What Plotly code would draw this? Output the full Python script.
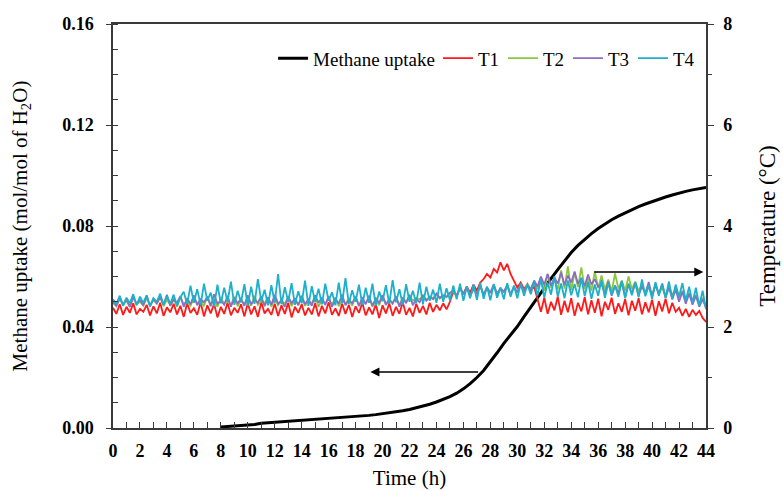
import plotly.graph_objects as go

# ---------------- data ----------------
# Methane uptake (mol/mol of H2O), sampled every 0.5 h from 8 h to 44 h
methane_time = [8.0 + 0.5 * i for i in range(73)]
methane_uptake = [
    0.0004, 0.0006, 0.0008, 0.0010, 0.0012, 0.0014, 0.0019, 0.0021, 0.0023, 0.0024,
    0.0026, 0.0027, 0.0029, 0.0031, 0.0033, 0.0034, 0.0036, 0.0038, 0.0040, 0.0042,
    0.0045, 0.0047, 0.0050, 0.0053, 0.0056, 0.0059, 0.0063, 0.0068, 0.0073, 0.0079,
    0.0086, 0.0094, 0.0103, 0.0113, 0.0124, 0.0138, 0.0155, 0.0176, 0.0200, 0.0228,
    0.0262, 0.0298, 0.0335, 0.0368, 0.0402, 0.0441, 0.0480, 0.0518, 0.0555, 0.0592,
    0.0627, 0.0662, 0.0695, 0.0723, 0.0748, 0.0770, 0.0790, 0.0808, 0.0825, 0.0839,
    0.0852, 0.0865, 0.0877, 0.0887, 0.0897, 0.0906, 0.0915, 0.0923, 0.0931, 0.0937,
    0.0943, 0.0948, 0.0953,
]

# Temperatures (deg C), sampled every 0.25 h from 0 h to 44 h
temp_time = [0.25 * i for i in range(177)]
T1 = [
    2.38, 2.26, 2.45, 2.24, 2.40, 2.28, 2.47, 2.25, 2.36, 2.30,
    2.44, 2.23, 2.41, 2.27, 2.48, 2.22, 2.39, 2.29, 2.46, 2.25,
    2.42, 2.20, 2.47, 2.28, 2.37, 2.24, 2.49, 2.21, 2.43, 2.27,
    2.46, 2.19, 2.40, 2.26, 2.48, 2.23, 2.38, 2.28, 2.45, 2.21,
    2.47, 2.25, 2.41, 2.20, 2.49, 2.27, 2.36, 2.24, 2.46, 2.22,
    2.43, 2.26, 2.48, 2.19, 2.40, 2.28, 2.45, 2.23, 2.38, 2.25,
    2.47, 2.21, 2.42, 2.27, 2.49, 2.24, 2.37, 2.22, 2.46, 2.26,
    2.44, 2.20, 2.41, 2.28, 2.48, 2.23, 2.39, 2.25, 2.45, 2.18,
    2.43, 2.27, 2.47, 2.22, 2.40, 2.26, 2.49, 2.24, 2.38, 2.21,
    2.46, 2.28, 2.42, 2.25, 2.48, 2.30, 2.44, 2.33, 2.47, 2.35,
    2.50,
    2.70, 2.62, 2.78, 2.65, 2.80, 2.68, 2.84, 2.72,
    2.88, 2.95, 3.05, 2.98, 3.15, 3.08, 3.28, 3.12, 3.25, 3.05,
    2.92, 2.78, 2.88, 2.75, 2.85, 2.72, 2.80,
    2.55, 2.30, 2.58, 2.26, 2.50, 2.33, 2.60, 2.24, 2.52, 2.29,
    2.57, 2.22, 2.48, 2.31, 2.59, 2.25, 2.53, 2.28, 2.56, 2.21,
    2.50, 2.34, 2.58, 2.26, 2.47, 2.30, 2.55, 2.23, 2.52, 2.32,
    2.57, 2.25, 2.49, 2.29, 2.54, 2.22, 2.51, 2.31, 2.56, 2.27,
    2.48, 2.30,
    2.38, 2.22, 2.36, 2.20, 2.34, 2.24, 2.32, 2.18, 2.10,
]
T2 = [
    2.48, 2.41, 2.55, 2.44, 2.52, 2.40, 2.58, 2.45, 2.50, 2.42,
    2.57, 2.43, 2.53, 2.46, 2.60, 2.41, 2.54, 2.44, 2.56, 2.40,
    2.59, 2.45, 2.51, 2.42, 2.57, 2.47, 2.53, 2.41, 2.61, 2.44,
    2.55, 2.40, 2.58, 2.46, 2.52, 2.43, 2.60, 2.41, 2.54, 2.45,
    2.57, 2.42, 2.62, 2.44, 2.51, 2.47, 2.59, 2.40, 2.56, 2.43,
    2.53, 2.46, 2.60, 2.41, 2.55, 2.44, 2.58, 2.42, 2.52, 2.47,
    2.61, 2.40, 2.54, 2.45, 2.57, 2.43, 2.59, 2.41, 2.53, 2.46,
    2.56, 2.42, 2.60, 2.44, 2.51, 2.47, 2.58, 2.40, 2.55, 2.43,
    2.62, 2.45, 2.53, 2.48, 2.59, 2.44, 2.57, 2.50, 2.61, 2.52,
    2.58, 2.55, 2.63, 2.54, 2.60, 2.57, 2.65, 2.56, 2.62, 2.59,
    2.66,
    2.70, 2.61, 2.76, 2.64, 2.79, 2.62, 2.74, 2.66, 2.80, 2.63,
    2.77, 2.67, 2.82, 2.65, 2.75, 2.69, 2.81, 2.64, 2.78, 2.68,
    2.83, 2.70, 2.85, 2.74,
    2.90, 2.75, 2.98, 2.72, 3.05, 2.78, 2.95, 2.74, 3.12, 2.76,
    3.20, 2.73, 3.08, 2.79, 3.18, 2.75, 2.96, 2.72, 3.10, 2.77,
    3.02, 2.74, 2.94, 2.70, 3.06, 2.76, 2.92, 2.72, 3.00, 2.75,
    2.90, 2.71,
    2.84, 2.64, 2.80, 2.62, 2.86, 2.66, 2.78, 2.60, 2.82, 2.63,
    2.76, 2.58, 2.72, 2.54, 2.68, 2.50, 2.64, 2.46, 2.58, 2.42,
]
T3 = [
    2.50, 2.42, 2.58, 2.44, 2.55, 2.40, 2.60, 2.46, 2.53, 2.43,
    2.62, 2.41, 2.56, 2.47, 2.59, 2.44, 2.64, 2.42, 2.54, 2.48,
    2.61, 2.40, 2.57, 2.45, 2.63, 2.43, 2.55, 2.49, 2.60, 2.41,
    2.65, 2.46, 2.52, 2.44, 2.62, 2.40, 2.58, 2.47, 2.56, 2.42,
    2.63, 2.45, 2.54, 2.48, 2.61, 2.41, 2.59, 2.44, 2.64, 2.46,
    2.53, 2.40, 2.60, 2.47, 2.57, 2.43, 2.62, 2.45, 2.55, 2.42,
    2.63, 2.48, 2.58, 2.44, 2.61, 2.40, 2.56, 2.46, 2.64, 2.43,
    2.54, 2.47, 2.60, 2.41, 2.59, 2.45, 2.62, 2.42, 2.57, 2.48,
    2.63, 2.44, 2.55, 2.46, 2.61, 2.40, 2.58, 2.47, 2.64, 2.43,
    2.56, 2.49, 2.62, 2.52, 2.60, 2.55, 2.66, 2.58, 2.63, 2.60,
    2.68,
    2.72, 2.62, 2.78, 2.65, 2.80, 2.63, 2.76, 2.67, 2.82, 2.64,
    2.79, 2.68, 2.84, 2.66, 2.77, 2.70, 2.83, 2.65, 2.80, 2.69,
    2.85, 2.72, 2.82, 2.75,
    2.92, 2.80, 3.00, 2.84, 3.05, 2.82, 2.98, 2.86, 3.08, 2.83,
    3.02, 2.88, 3.10, 2.85, 2.97, 2.81, 3.04, 2.84, 2.95, 2.80,
    2.85, 2.65, 2.90, 2.62, 2.82, 2.68, 2.88, 2.60, 2.84, 2.66,
    2.87, 2.63, 2.80, 2.67, 2.89, 2.61, 2.83, 2.65, 2.86, 2.58,
    2.78, 2.55, 2.74, 2.50, 2.70, 2.46, 2.66, 2.44, 2.62, 2.40,
    2.55, 2.38,
]
T4 = [
    2.55, 2.45, 2.62, 2.42, 2.58, 2.47, 2.65, 2.43, 2.60, 2.48,
    2.63, 2.41, 2.57, 2.50, 2.66, 2.44, 2.61, 2.46, 2.64, 2.42,
    2.59,
    2.70, 2.45, 2.82, 2.48, 2.75, 2.43, 2.86, 2.52, 2.68, 2.41,
    2.84, 2.47, 2.78, 2.50, 2.90, 2.44, 2.72, 2.49, 2.85, 2.42,
    2.80, 2.46, 2.95, 2.51, 2.74, 2.43, 2.83, 2.48, 3.05, 2.45,
    2.79, 2.50, 2.87, 2.44, 2.71, 2.47, 2.92, 2.42, 2.81, 2.49,
    2.76, 2.45, 2.86, 2.52, 2.69, 2.43, 2.88, 2.47, 2.97, 2.46,
    2.73, 2.50, 2.84, 2.44, 2.78, 2.48, 2.86, 2.42, 2.70, 2.51,
    2.83, 2.46, 2.93, 2.49, 2.75, 2.44, 2.85, 2.50, 2.72, 2.47,
    2.88, 2.45, 2.80, 2.52, 2.74, 2.48, 2.86, 2.50, 2.77, 2.53,
    2.82, 2.55, 2.86, 2.52, 2.79, 2.57, 2.84, 2.54, 2.88, 2.56,
    2.80, 2.53, 2.85, 2.58, 2.78, 2.55, 2.87, 2.60, 2.82, 2.57,
    2.86, 2.62, 2.84, 2.65,
    2.90, 2.62, 2.95, 2.58, 2.88, 2.64, 3.00, 2.60, 2.86, 2.57,
    2.92, 2.63, 2.85, 2.59, 2.97, 2.61, 2.89, 2.56, 2.84, 2.62,
    2.93, 2.58, 2.87, 2.64, 2.82, 2.60, 2.91, 2.57, 2.86, 2.63,
    2.88, 2.59, 2.94, 2.61, 2.83, 2.56, 2.89, 2.62, 2.85, 2.58,
    2.90, 2.55, 2.84, 2.60, 2.87, 2.52, 2.80, 2.48, 2.78, 2.42,
    2.72, 2.35,
]

series_names = ["T1", "T2", "T3", "T4"]
series_colors = ["#FF1A1A", "#8CC63F", "#8E6CC4", "#1EAFCB"]

# arrow annotations: (tail x, head x, y) in data units
arrow_left = (27.2, 19.1, 0.0222)     # on methane axis
arrow_right = (35.6, 43.8, 3.09)      # on temperature axis

x_ticks = list(range(0, 45, 2))
y1_ticks = [0.00, 0.04, 0.08, 0.12, 0.16]
y2_ticks = [0, 2, 4, 6, 8]

# ---------------- figure ----------------
FONT = "Liberation Serif, Times New Roman, serif"
AX = "#3a3a3a"

fig = go.Figure()
fig.add_trace(go.Scatter(x=methane_time, y=methane_uptake, mode="lines",
                         name="Methane uptake", line=dict(color="black", width=3),
                         yaxis="y", legend="legend"))
for name, col, vals in zip(series_names, series_colors, [T1, T2, T3, T4]):
    fig.add_trace(go.Scatter(x=temp_time, y=vals, mode="lines", name=name,
                             line=dict(color=col, width=1.8), yaxis="y2",
                             legend="legend2"))

fig.add_annotation(x=arrow_left[1], y=arrow_left[2], ax=arrow_left[0], ay=arrow_left[2],
                   xref="x", yref="y", axref="x", ayref="y", text="", showarrow=True,
                   arrowhead=2, arrowsize=1.2, arrowwidth=1.5, arrowcolor="black")
fig.add_annotation(x=arrow_right[1], y=arrow_right[2], ax=arrow_right[0], ay=arrow_right[2],
                   xref="x", yref="y2", axref="x", ayref="y2", text="", showarrow=True,
                   arrowhead=2, arrowsize=1.2, arrowwidth=1.5, arrowcolor="black")

fig.update_layout(
    width=783, height=490,
    margin=dict(l=113, r=77, t=24, b=62),
    paper_bgcolor="white", plot_bgcolor="white",
    font=dict(family=FONT, size=17, color="black"),
    showlegend=True,
    legend=dict(orientation="h", x=0.27, y=0.915, xanchor="left", yanchor="middle",
                bgcolor="rgba(0,0,0,0)", font=dict(size=19, family=FONT),
                itemwidth=30),
    legend2=dict(orientation="h", x=0.548, y=0.915, xanchor="left", yanchor="middle",
                 bgcolor="rgba(0,0,0,0)", font=dict(size=19, family=FONT),
                 itemwidth=30, entrywidth=20, entrywidthmode="pixels"),
    xaxis=dict(range=[0, 44], tickvals=x_ticks, ticktext=[str(v) for v in x_ticks],
               automargin=False,
               showgrid=False, zeroline=False, showline=True, linecolor=AX, linewidth=1.5,
               mirror=True, ticks="inside", ticklen=6, tickcolor=AX, tickwidth=1,
               minor=dict(dtick=1, ticks="inside", ticklen=6, tickcolor=AX, showgrid=False),
               tickfont=dict(size=18, family=FONT, color="black", weight="bold"),
               ticklabelstandoff=6,
               title=dict(text="Time (h)", font=dict(size=21, family=FONT), standoff=21)),
    yaxis=dict(range=[0, 0.16], tickvals=y1_ticks,
               ticktext=[f"{v:.2f}" for v in y1_ticks],
               automargin=False,
               showgrid=False, zeroline=False, showline=True, linecolor=AX, linewidth=1.5,
               ticks="outside", ticklen=5, tickcolor=AX, tickwidth=1,
               minor=dict(dtick=0.01, ticks="inside", ticklen=5, tickcolor=AX, showgrid=False),
               tickfont=dict(size=18, family=FONT, color="black", weight="bold"),
               ticklabelstandoff=9,
               title=dict(text="Methane uptake (mol/mol of H<sub>2</sub>O)",
                          font=dict(size=21, family=FONT), standoff=29)),
    yaxis2=dict(range=[0, 8], tickvals=y2_ticks, ticktext=[str(v) for v in y2_ticks],
                overlaying="y", side="right", automargin=False,
                showgrid=False, zeroline=False, showline=True, linecolor=AX, linewidth=1.5,
                ticks="outside", ticklen=6, tickcolor=AX, tickwidth=1,
                minor=dict(dtick=1, ticks="outside", ticklen=4, tickcolor=AX, showgrid=False),
                tickfont=dict(size=18, family=FONT, color="black", weight="bold"),
                ticklabelstandoff=6,
                title=dict(text="Temperature (°C)", font=dict(size=23, family=FONT), standoff=28)),
)

fig.write_html("out.html")
